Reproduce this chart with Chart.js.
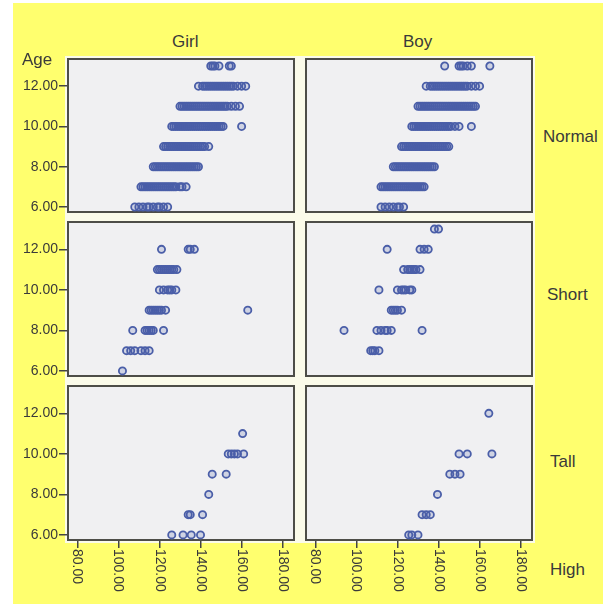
<!DOCTYPE html>
<html>
<head>
<meta charset="utf-8">
<script src="https://cdn.jsdelivr.net/npm/chart.js@4/dist/chart.umd.min.js"></script>
<style>
  body { margin:0; background:#fff; width:603px; height:604px; position:relative; overflow:hidden;
         font-family:"Liberation Sans", Arial, sans-serif; }
  #bg { position:absolute; left:13px; top:3px; width:590px; height:601px; background:#FFFF6E; }
  #back { position:absolute; left:65px; top:56px; width:470px; height:487px; background:#FBFBEA; }
  canvas { position:absolute; }
  .lbl { position:absolute; font-size:17px; line-height:17px; color:#3a3a3a; white-space:nowrap; }
</style>
</head>
<body>
<div id="bg"></div>
<div id="back"></div>

<script>
/* ---- tick values / labels ---- */
const xTicks = [80, 100, 120, 140, 160, 180];
const yTicks = [6, 8, 10, 12];
const colNames = ['Girl', 'Boy'];
const rowNames = ['Normal', 'Short', 'Tall'];

/* ---- height values per age ---- */
const girlNormal = [
  [6,  [108,110,112,114,115,117,119,120,122,124]],
  [7,  [111,112,113,114,115,116,117,118,119,120,121,122,123,124,125,126,127,128,130,131,133]],
  [8,  [117,118,119,120,121,122,123,124,125,126,127,128,129,130,131,132,133,134,135,136,137,138,139]],
  [9,  [122,123,124,125,126,127,128,129,130,131,132,133,134,135,136,137,138,139,140,141,142,144]],
  [10, [126,127,128,129,130,131,132,133,134,135,136,137,138,139,140,141,142,143,144,145,146,147,148,149,150,151,160]],
  [11, [130,131,132,133,134,135,136,137,138,139,140,141,142,143,144,145,146,147,148,149,150,151,152,153,155,157,159]],
  [12, [139,141,142,143,144,145,146,147,148,149,150,151,152,153,154,155,156,158,160,162]],
  [13, [145,146,147,149,154,155]]
];
const boyNormal = [
  [6,  [112,114,116,118,120,121,123]],
  [7,  [112,113,114,115,116,117,118,119,120,121,122,123,124,125,126,127,128,129,130,131,132,133]],
  [8,  [118,119,120,121,122,123,124,125,126,127,128,129,130,131,132,133,134,135,136,137,138]],
  [9,  [122,123,124,125,126,127,128,129,130,131,132,133,134,135,136,137,138,139,140,141,142,143,144,145]],
  [10, [127,128,129,130,131,132,133,134,135,136,137,138,139,140,141,142,143,144,145,146,148,150,156]],
  [11, [130,131,132,133,134,135,136,137,138,139,140,141,142,143,144,145,146,147,148,149,150,151,152,153,154,155,156,157,158]],
  [12, [134,136,137,138,139,140,141,142,143,144,145,146,147,148,149,150,151,152,153,154,156,158,160]],
  [13, [143,150,151,152,154,156,165]]
];
const girlShort = [
  [6,  [102]],
  [7,  [104,106,108,111,113,115]],
  [8,  [107,113,114,115,116,117,122]],
  [9,  [115,116,117,118,119,120,121,123,163]],
  [10, [120,122,124,125,126,128]],
  [11, [119,120,121,122,123,124,125,126,127,128.5]],
  [12, [121,134,135,137]]
];
const boyShort = [
  [7,  [107,108,109,111]],
  [8,  [94,110,112,114,115,117,132]],
  [9,  [117,118,119,120,122]],
  [10, [111,120,122,123,124,126,127]],
  [11, [123,125,126,127,128,129,131]],
  [12, [115,131,133,135]],
  [13, [138,140]]
];
const girlTall = [
  [6,  [126,131.5,135.5,140]],
  [7,  [134,135,141]],
  [8,  [144]],
  [9,  [145.7,152.5]],
  [10, [153.5,155,156.5,158,161]],
  [11, [160.5]]
];
const boyTall = [
  [6,  [125.5,127,130]],
  [7,  [132,134,136]],
  [8,  [139.5]],
  [9,  [145.5,148,150.5]],
  [10, [150,154,166]],
  [12, [164.5]]
];

const panelData = [
  [girlNormal, boyNormal],
  [girlShort, boyShort],
  [girlTall, boyTall]
];

/* ---- layout ---- */
const colLeft = [67, 305];
const colWidth = 228;
const rowTop = [58, 221, 385];
const rowHeight = [155, 156, 156];
const yAxisW = 67;
const xAxisH = 63;
const FONT = '"Liberation Sans", Arial, sans-serif';

Chart.defaults.font.family = FONT;
Chart.defaults.color = '#3a3a3a';

function toPoints(rows) {
  const pts = [];
  rows.forEach(([age, hs]) => hs.forEach(h => pts.push({ x: h, y: age })));
  return pts;
}

const panelPlugin = {
  id: 'panel',
  beforeDraw(chart) {
    const a = chart.chartArea, ctx = chart.ctx;
    ctx.save();
    ctx.fillStyle = '#F0F0F2';
    ctx.fillRect(a.left, a.top, a.right - a.left, a.bottom - a.top);
    ctx.restore();
  },
  beforeDatasetsDraw(chart) {
    const a = chart.chartArea, ctx = chart.ctx;
    ctx.save();
    ctx.strokeStyle = '#4d4d48';
    ctx.lineWidth = 2;
    ctx.strokeRect(a.left + 1, a.top + 1, a.right - a.left - 2, a.bottom - a.top - 2);
    ctx.restore();
  },
  afterDraw(chart, args, opts) {
    if (!opts.xLabels) return;
    const xs = chart.scales.x, a = chart.chartArea, ctx = chart.ctx;
    ctx.save();
    ctx.font = '14px ' + FONT;
    ctx.fillStyle = '#3a3a3a';
    ctx.textAlign = 'left';
    ctx.textBaseline = 'middle';
    xTicks.forEach(v => {
      ctx.save();
      ctx.translate(xs.getPixelForValue(v), a.bottom + 8);
      ctx.rotate(Math.PI / 2);
      ctx.fillText(v.toFixed(2), 0, 0);
      ctx.restore();
    });
    ctx.restore();
  }
};

function makePanel(r, c) {
  const showY = c === 0, showX = r === 2;
  const cv = document.createElement('canvas');
  const left = showY ? colLeft[c] - yAxisW : colLeft[c];
  const w = showY ? colWidth + yAxisW : colWidth;
  const h = rowHeight[r] + (showX ? xAxisH : 0);
  cv.width = w; cv.height = h;
  cv.style.left = left + 'px';
  cv.style.top = rowTop[r] + 'px';
  document.body.appendChild(cv);

  new Chart(cv, {
    type: 'scatter',
    data: {
      datasets: [{
        data: toPoints(panelData[r][c]),
        pointStyle: 'circle',
        pointRadius: 3.6,
        pointBorderWidth: 1.8,
        borderColor: '#4a5ea8',
        backgroundColor: 'rgba(74,94,168,0.2)'
      }]
    },
    options: {
      responsive: false,
      animation: false,
      devicePixelRatio: 1,
      layout: { padding: 0, autoPadding: false },
      plugins: { legend: { display: false }, tooltip: { enabled: false }, panel: { xLabels: showX } },
      scales: {
        x: {
          type: 'linear', min: 75, max: 186,
          display: showX,
          afterBuildTicks: s => { s.ticks = xTicks.map(v => ({ value: v })); },
          afterFit: s => {
            if (!showX) return;
            s.height = xAxisH; s.paddingLeft = 0; s.paddingRight = 0; s.paddingTop = 0; s.paddingBottom = 0;
          },
          grid: { drawOnChartArea: false, drawTicks: true, tickLength: 7, color: '#444', lineWidth: 1.5 },
          border: { display: false },
          ticks: { display: false, autoSkip: false }
        },
        y: {
          type: 'linear', min: 5.7, max: 13.4,
          display: showY,
          afterBuildTicks: s => { s.ticks = yTicks.map(v => ({ value: v })); },
          afterFit: s => {
            if (!showY) return;
            s.width = yAxisW; s.paddingTop = 0; s.paddingBottom = 0; s.paddingLeft = 0; s.paddingRight = 0;
          },
          grid: { drawOnChartArea: false, drawTicks: true, tickLength: 8, color: '#444', lineWidth: 1.5 },
          border: { display: false },
          ticks: { padding: 1, autoSkip: false, color: '#3a3a3a', font: { size: 14 }, callback: v => Number(v).toFixed(2) }
        }
      }
    },
    plugins: [panelPlugin]
  });
}

for (let r = 0; r < 3; r++) for (let c = 0; c < 2; c++) makePanel(r, c);

/* ---- text labels ---- */
function addLabel(text, left, top) {
  const d = document.createElement('div');
  d.className = 'lbl';
  d.textContent = text;
  d.style.left = left + 'px';
  d.style.top = top + 'px';
  document.body.appendChild(d);
}
addLabel(colNames[0], 172, 33);
addLabel(colNames[1], 403, 33);
addLabel('Age', 22, 51);
addLabel(rowNames[0], 543, 128);
addLabel(rowNames[1], 547, 286);
addLabel(rowNames[2], 550, 453);
addLabel('High', 550, 561);
</script>
</body>
</html>
